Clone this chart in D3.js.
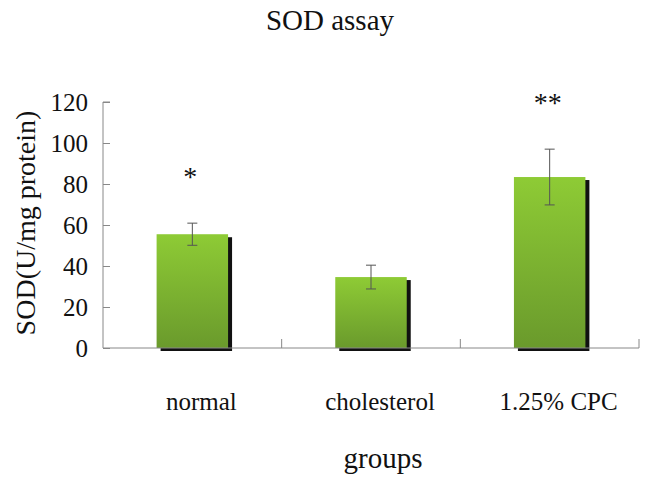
<!DOCTYPE html>
<html><head><meta charset="utf-8">
<script src="https://cdn.jsdelivr.net/npm/d3@7"></script>
<style>body{margin:0;background:#fff}text{font-family:"Liberation Serif","Times New Roman",serif;fill:#111}</style>
</head><body>
<svg id="c" width="646" height="488"></svg>
<script>
const categories = ["normal", "cholesterol", "1.25% CPC"];
const values = [55.5, 34.6, 83.4];
const errors = [5.4, 5.8, 13.6];
const marks = ["*", "", "**"];
const yTicks = [0, 20, 40, 60, 80, 100, 120];

const svg = d3.select("#c");
const pL = 103, pR = 639, pT = 102, pB = 348;
const x = d3.scaleBand().domain(categories).range([pL, pR]).paddingInner(0).paddingOuter(0);
const y = d3.scaleLinear().domain([0, 120]).range([pB, pT]);
const bw = x.bandwidth() * 0.4;

const defs = svg.append("defs");
const g = defs.append("linearGradient").attr("id", "grad").attr("x1", 0).attr("y1", 0).attr("x2", 0).attr("y2", 1);
g.append("stop").attr("offset", "0%").attr("stop-color", "#8ecb35");
g.append("stop").attr("offset", "100%").attr("stop-color", "#6a9a2c");

// title
svg.append("text").attr("x", 330).attr("y", 30).attr("text-anchor", "middle").style("font-size", "29px").text("SOD assay");

// bars shadow
svg.selectAll("rect.sh").data(categories).join("rect").attr("class", "sh")
  .attr("x", (d) => x(d) + x.bandwidth() / 2 - bw / 2 + 4)
  .attr("y", (d, i) => y(values[i]) + 3)
  .attr("width", bw).attr("height", (d, i) => pB - y(values[i]))
  .attr("fill", "#111");
svg.selectAll("rect.bar").data(categories).join("rect").attr("class", "bar")
  .attr("x", (d) => x(d) + x.bandwidth() / 2 - bw / 2)
  .attr("y", (d, i) => y(values[i]))
  .attr("width", bw).attr("height", (d, i) => pB - y(values[i]))
  .attr("fill", "url(#grad)");

// axes
const ya = svg.append("g").attr("transform", `translate(${pL},0)`)
  .call(d3.axisRight(y).tickValues(yTicks).tickSize(7).tickFormat(""));
ya.select(".domain").attr("stroke", "#888").attr("d", `M7,${pT}H0V${pB}`);
ya.selectAll(".tick line").attr("stroke", "#888");
svg.selectAll("text.yt").data(yTicks).join("text").attr("class", "yt")
  .attr("x", 88).attr("y", (d) => y(d)).attr("dy", "0.36em").attr("text-anchor", "end")
  .style("font-size", "25px").text((d) => d);

const xa = svg.append("g").attr("transform", `translate(0,${pB})`)
  .call(d3.axisTop(x).tickSize(0).tickFormat(""));
xa.select(".domain").attr("stroke", "#888").attr("d", `M${pL},0H${pR}`);
xa.selectAll(".tick").remove();
svg.selectAll("line.xt").data(categories).join("line").attr("class", "xt")
  .attr("x1", (d) => x(d) + x.bandwidth()).attr("x2", (d) => x(d) + x.bandwidth())
  .attr("y1", pB).attr("y2", pB - 9).attr("stroke", "#888");

// error bars
const eb = svg.selectAll("g.eb").data(categories).join("g").attr("class", "eb")
  .attr("transform", (d) => `translate(${x(d) + x.bandwidth() / 2},0)`);
eb.append("line").attr("y1", (d, i) => y(values[i] + errors[i])).attr("y2", (d, i) => y(values[i] - errors[i])).attr("stroke", "#555");
eb.append("line").attr("x1", -5).attr("x2", 5).attr("y1", (d, i) => y(values[i] + errors[i])).attr("y2", (d, i) => y(values[i] + errors[i])).attr("stroke", "#555");
eb.append("line").attr("x1", -5).attr("x2", 5).attr("y1", (d, i) => y(values[i] - errors[i])).attr("y2", (d, i) => y(values[i] - errors[i])).attr("stroke", "#555");

// significance marks
svg.selectAll("text.mk").data(categories).join("text").attr("class", "mk")
  .attr("x", (d) => x(d) + x.bandwidth() / 2 - 2)
  .attr("y", (d, i) => y(values[i] + errors[i]) - 37)
  .attr("text-anchor", "middle").style("font-size", "28px").text((d, i) => marks[i]);

// category labels
svg.selectAll("text.cat").data(categories).join("text").attr("class", "cat")
  .attr("x", (d) => x(d) + x.bandwidth() / 2 + 9).attr("y", 410)
  .attr("text-anchor", "middle").style("font-size", "25px").text((d) => d);

// axis titles
svg.append("text").attr("x", 383).attr("y", 468).attr("text-anchor", "middle").style("font-size", "29px").text("groups");
svg.append("text").attr("transform", "translate(35,223) rotate(-90)").attr("text-anchor", "middle").style("font-size", "28px").text("SOD(U/mg protein)");
</script>
</body></html>
